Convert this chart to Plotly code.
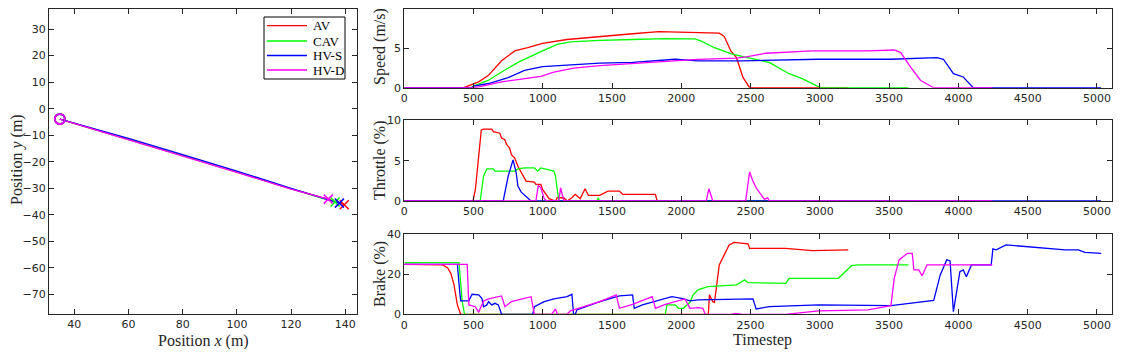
import plotly.graph_objects as go

# ---------------- data ----------------
series = ["AV", "CAV", "HV-S", "HV-D"]
colors = ["#ff0000", "#00ff00", "#0000ff", "#ff00ff"]

# trajectories (m)
AV_x = [34.7, 60, 80, 100, 120, 135, 139.6]
AV_y = [-3.9, -11.5, -17.7, -23.9, -30.2, -34.6, -36.2]
CAV_x = [34.7, 60, 80, 100, 120, 136.2]
CAV_y = [-3.9, -11.5, -17.7, -23.9, -30.1, -35.2]
HVS_x = [34.7, 60, 80, 100, 120, 137.8]
HVS_y = [-3.9, -11.2, -17.3, -23.5, -30.0, -35.6]
HVD_x = [34.7, 60, 80, 100, 120, 133.7]
HVD_y = [-3.9, -11.6, -17.8, -24.0, -30.3, -34.1]

# speed (m/s)
AV_speed_t = [0, 430, 537, 608, 702, 797, 891, 998, 1175, 1411, 1648, 1837, 2002, 2120, 2274, 2310, 2357, 2398, 2445, 2493, 3205]
AV_speed_v = [0, 0, 0.74, 1.56, 3.4, 4.65, 5.06, 5.6, 6.1, 6.5, 6.83, 7.1, 7.04, 7.0, 6.9, 6.5, 4.65, 3.8, 1.3, 0, 0]
CAV_speed_t = [0, 480, 500, 608, 702, 820, 998, 1104, 1199, 1411, 1648, 1884, 2097, 2144, 2239, 2357, 2452, 2635, 2778, 2872, 3000, 3039, 3640]
CAV_speed_v = [0, 0, 0.2, 0.95, 1.98, 3.2, 4.65, 5.47, 5.8, 6.0, 6.1, 6.2, 6.17, 5.9, 5.06, 4.3, 3.9, 3.2, 1.77, 1.15, 0.04, 0, 0]
HVS_speed_t = [0, 490, 500, 608, 750, 868, 998, 1175, 1411, 1648, 1884, 1955, 2120, 2452, 2991, 3513, 3845, 3892, 3964, 4035, 4106, 4130, 5030]
HVS_speed_v = [0, 0, 0.2, 0.53, 1.28, 2.18, 2.67, 2.88, 3.1, 3.2, 3.5, 3.6, 3.4, 3.4, 3.6, 3.6, 3.8, 3.6, 1.77, 1.36, 0.04, 0, 0]
HVD_speed_t = [0, 500, 537, 702, 820, 986, 1080, 1222, 1411, 1766, 2002, 2120, 2398, 2469, 2609, 2944, 3347, 3537, 3584, 3655, 3726, 3797, 3821, 4245]
HVD_speed_v = [0, 0, 0.1, 0.74, 1.03, 1.44, 1.98, 2.47, 2.8, 3.2, 3.5, 3.58, 3.74, 3.9, 4.36, 4.65, 4.65, 4.77, 4.44, 2.59, 0.95, 0.2, 0, 0]

# throttle (%)
AV_thr_t = [0, 496, 513, 556, 572, 631, 643, 690, 702, 726, 738, 761, 773, 797, 820, 856, 879, 939, 950, 986, 998, 1045, 1092, 1104, 1151, 1175, 1210, 1234, 1270, 1305, 1329, 1411, 1470, 1553, 1577, 1648, 1813, 1825, 3205]
AV_thr_v = [0, 0, 1.43, 8.8, 8.9, 8.9, 8.6, 8.4, 7.8, 7.6, 7.0, 6.56, 5.74, 5.33, 4.3, 3.28, 2.46, 2.34, 2.05, 2.05, 1.43, 0.29, 0, 0.4, 0.4, 0, 0.4, 0.82, 0.29, 1.52, 0.7, 0.7, 1.23, 1.23, 0.82, 0.82, 0.82, 0, 0]
CAV_thr_t = [0, 548, 572, 596, 643, 655, 797, 820, 868, 939, 962, 986, 1080, 1092, 1104, 1116, 1390, 1400, 1410, 3640]
CAV_thr_v = [0, 0, 3.07, 3.97, 3.97, 3.7, 3.7, 3.97, 4.1, 4.1, 3.7, 4.1, 3.7, 3.07, 1.43, 0, 0, 0.4, 0, 0]
HVS_thr_t = [0, 714, 750, 785, 808, 820, 844, 879, 915, 5030]
HVS_thr_v = [0, 0, 3.07, 5.1, 3.48, 1.84, 1.1, 0.53, 0, 0]
HVD_thr_t = [0, 950, 967, 986, 1010, 1030, 1116, 1128, 1151, 1165, 2180, 2199, 2227, 2464, 2493, 2517, 2540, 2576, 2600, 2623, 2635, 4245]
HVD_thr_v = [0, 0, 1.93, 1.64, 0.29, 0, 0, 1.64, 0.1, 0, 0, 1.52, 0, 0, 3.6, 2.46, 1.64, 0.82, 0.2, 0.4, 0, 0]

# brake (%)
AV_brk_t = [0, 241, 277, 312, 336, 359, 383, 407, 2195, 2203, 2227, 2239, 2274, 2310, 2345, 2381, 2452, 2481, 2493, 2754, 2944, 3205]
AV_brk_v = [25, 25, 24.7, 23.3, 20.5, 14.7, 4.7, 0, 0, 9.7, 6.3, 6, 24.7, 29.7, 34.7, 36, 35.5, 35.2, 33, 33, 31.8, 32.2]
CAV_brk_t = [0, 395, 418, 435, 1884, 1896, 1955, 1979, 2014, 2062, 2085, 2120, 2191, 2286, 2381, 2398, 2457, 2481, 2754, 2778, 3134, 3228, 3276, 3640]
CAV_brk_v = [25.8, 25.8, 6.3, 0, 0, 4.7, 4.7, 3, 3, 6, 9.7, 12.2, 13.8, 14.3, 14.7, 14.7, 17.2, 15.8, 15.5, 18, 18, 24.3, 24.7, 24.7]
HVS_brk_t = [0, 383, 400, 407, 466, 478, 489, 537, 560, 572, 596, 608, 631, 655, 679, 702, 927, 939, 1010, 1080,
             1175, 1210, 1222, 1234, 1246, 1411, 1553, 1648, 1660, 1719, 1790, 1837, 1931, 2002, 2062, 2120, 2398, 2517, 2540, 2635,
             2991, 3513, 3822, 3869, 3916, 3940, 3964, 3987, 4011, 4035, 4058, 4094, 4237, 4249, 4273, 4344, 4486, 4771, 4866, 4913, 5031]
HVS_brk_v = [25, 25, 11.3, 6.7, 6.7, 8.8, 10, 9.7, 8, 3.8, 4.7, 6.3, 4.7, 5.5, 4.7, 0, 0, 3.8, 6.3, 7.7,
             8.8, 10, 0, 0, 2.2, 6.3, 9.2, 9.7, 3, 4.7, 6, 6.7, 8.8, 8, 6.7, 7.2, 7.7, 7.7, 2.7, 3.8,
             4.7, 4.3, 7, 19.7, 27.2, 26.7, 1.3, 11.3, 21.3, 22.2, 18.8, 24.7, 24.7, 32.7, 32.2, 34.7, 33.8, 32.2, 32.2, 31, 30.5]
HVD_brk_t = [0, 454, 466, 513, 537, 572, 608, 702, 726, 773, 915, 939, 1064, 1092, 1104, 1175, 1199, 1411, 1530, 1553,
             1648, 1790, 1813, 1884, 2026, 2062, 2120, 2156, 2172, 2357, 2393, 2440, 2754, 2991, 3347, 3513, 3537, 3572, 3632, 3667,
             3679, 3714, 3738, 3774, 4245]
HVD_brk_v = [25, 25, 4.7, 3.8, 1, 6.7, 7.7, 9.2, 3.8, 6.3, 8.8, 0, 0, 2.7, 0, 0, 1.7, 6.3, 9.7, 3,
             5, 8.8, 3, 5, 7.7, 3, 3.3, 3, 0, 0, 0.5, 0, 0, 1.7, 2.2, 4.3, 18, 27.2, 30.5, 30.5,
             22.2, 22.2, 19.3, 24.7, 24.7]

traj = [(AV_x, AV_y), (CAV_x, CAV_y), (HVS_x, HVS_y), (HVD_x, HVD_y)]
speed = [(AV_speed_t, AV_speed_v), (CAV_speed_t, CAV_speed_v), (HVS_speed_t, HVS_speed_v), (HVD_speed_t, HVD_speed_v)]
thr = [(AV_thr_t, AV_thr_v), (CAV_thr_t, CAV_thr_v), (HVS_thr_t, HVS_thr_v), (HVD_thr_t, HVD_thr_v)]
brk = [(AV_brk_t, AV_brk_v), (CAV_brk_t, CAV_brk_v), (HVS_brk_t, HVS_brk_v), (HVD_brk_t, HVD_brk_v)]

# ---------------- figure ----------------
OFF = 8                       # page body margin (all sides)
W, H = 1121 - 2 * OFF, 357 - 2 * OFF   # fit the page without scrollbars
fig = go.Figure()
LW = 1.3

for i, name in enumerate(series):
    x, y = traj[i]
    fig.add_trace(go.Scatter(x=x, y=y, mode="lines", name=name, showlegend=False,
                             line=dict(color=colors[i], width=LW), xaxis="x", yaxis="y"))
for i, name in enumerate(series):
    x, y = traj[i]
    fig.add_trace(go.Scatter(x=[x[0]], y=[y[0]], mode="markers", showlegend=False,
                             marker=dict(symbol="circle-open", size=10, color=colors[i], line=dict(width=1.8)),
                             xaxis="x", yaxis="y"))
    fig.add_trace(go.Scatter(x=[x[-1]], y=[y[-1]], mode="markers", showlegend=False,
                             marker=dict(symbol="x-thin-open", size=9, color=colors[i], line=dict(width=1.5, color=colors[i])),
                             xaxis="x", yaxis="y"))

for data, ax in [(speed, "2"), (thr, "3"), (brk, "4")]:
    for i, name in enumerate(series):
        t, v = data[i]
        fig.add_trace(go.Scatter(x=t, y=v, mode="lines", showlegend=False,
                                 line=dict(color=colors[i], width=LW),
                                 xaxis="x" + ax, yaxis="y" + ax))

def px_x(p):
    return min(max((p - OFF) / W, 0.0), 0.999)

def px_y(p):
    return min(max(1 - (p - OFF) / H, 0.0), 0.998)

axcol = "#262626"
tickfont = dict(family="DejaVu Sans", size=11, color=axcol)
common = dict(showline=True, mirror="allticks", ticks="inside", ticklen=5, tickcolor=axcol,
              linecolor=axcol, linewidth=1, showgrid=False, zeroline=False, tickfont=tickfont,
              automargin=False)

# right panels: 0 at x=404.3 px, 5000 at x=1097 px, right frame at 1112 px
r0, r5000, rend = 404.3, 1097.0, 1112.0
right_dom = [px_x(r0), px_x(rend)]
xr = [0, (rend - r0) / (r5000 - r0) * 5000]

fig.update_layout(
    template="none",
    width=W, height=H, margin=dict(l=0, r=0, t=0, b=0, pad=0),
    paper_bgcolor="white", plot_bgcolor="white",
    xaxis=dict(domain=[px_x(49), px_x(357)], range=[30.7, 144.3], tickvals=[40, 60, 80, 100, 120, 140],
               anchor="y", **common),
    yaxis=dict(domain=[px_y(314), px_y(6)], range=[-77.4, 37.7], tickvals=list(range(-70, 31, 10)),
               anchor="x", **common),
    xaxis2=dict(domain=right_dom, range=xr, tickvals=list(range(0, 5001, 500)), anchor="y2", **common),
    yaxis2=dict(domain=[px_y(87.7), px_y(6.7)], range=[0, 10], tickvals=[0, 5, 10], anchor="x2", **common),
    xaxis3=dict(domain=right_dom, range=xr, tickvals=list(range(0, 5001, 500)), anchor="y3", **common),
    yaxis3=dict(domain=[px_y(201), px_y(120.3)], range=[0, 10], tickvals=[0, 5, 10], anchor="x3", **common),
    xaxis4=dict(domain=right_dom, range=xr, tickvals=list(range(0, 5001, 500)), anchor="y4", **common),
    yaxis4=dict(domain=[px_y(314.3), px_y(234.3)], range=[0, 40], tickvals=[0, 20, 40], anchor="x4", **common),
    showlegend=False,
)

# legend box (drawn manually to match the compact MATLAB legend)
fig.add_shape(type="rect", xref="paper", yref="paper",
              x0=px_x(264), x1=px_x(345), y0=px_y(79), y1=px_y(17),
              line=dict(color="black", width=1), fillcolor="white", layer="above")
leg_y = [25.7, 41.0, 55.5, 70.0]
for i, name in enumerate(series):
    fig.add_shape(type="line", xref="paper", yref="paper",
                  x0=px_x(267), x1=px_x(307), y0=px_y(leg_y[i]), y1=px_y(leg_y[i]),
                  line=dict(color=colors[i], width=LW), layer="above")
    fig.add_annotation(xref="paper", yref="paper", x=px_x(311), y=px_y(leg_y[i]),
                       text=name, showarrow=False, xanchor="left", yanchor="middle",
                       font=dict(family="Liberation Serif", size=13, color="black"))

serif = dict(family="Liberation Serif", size=16, color=axcol)
annots = [
    dict(text="Position <i>x</i> (m)", x=px_x(203), y=px_y(341), textangle=0),
    dict(text="Position <i>y</i> (m)", x=px_x(17), y=px_y(160), textangle=-90),
    dict(text="Speed (m/s)", x=px_x(380), y=px_y(47), textangle=-90),
    dict(text="Throttle (%)", x=px_x(380), y=px_y(160), textangle=-90),
    dict(text="Brake (%)", x=px_x(380), y=px_y(274), textangle=-90),
    dict(text="Timestep", x=px_x(762), y=px_y(340), textangle=0),
]
for a in annots:
    fig.add_annotation(xref="paper", yref="paper", showarrow=False, xanchor="center", yanchor="middle",
                       font=serif, **a)

fig.write_html("out.html")
